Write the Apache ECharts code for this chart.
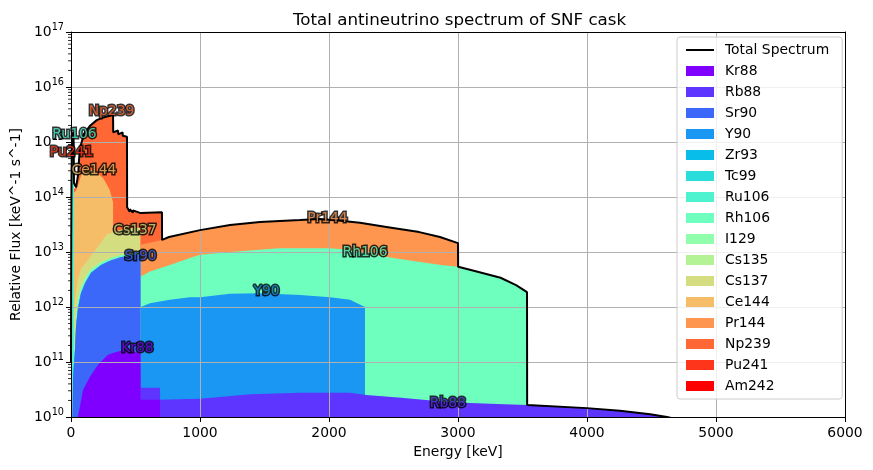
<!DOCTYPE html>
<html>
<head>
<meta charset="utf-8">
<script src="https://cdn.jsdelivr.net/npm/echarts@6/dist/echarts.min.js"></script>
<style>
html,body{margin:0;padding:0;background:#fff}
#chart{width:873px;height:470px}
</style>
</head>
<body>
<div id="chart"></div>
<script>
// isotopes, bottom of the stack first
var isotopes = ['Kr88','Rb88','Sr90','Y90','Zr93','Tc99','Ru106','Rh106','I129','Cs135','Cs137','Ce144','Pr144','Np239','Pu241','Am242'];
var isotopeColors = ['#8000ff','#5e35fe','#3c68f9','#1a96f3','#08bde9','#2adddd','#4df3ce','#6efebd','#91feab','#b3f396','#d4dd80','#f6bd68','#ff964f','#ff6835','#ff351b','#ff0000'];

// cumulative top of each layer, [energy keV, flux]
var kr88Top = [[40,1e9],[54,1e10],[93,3.1e10],[147,5.4e10],[209,8.9e10],[248,1.1e11],[287,1.35e11],[326,1.45e11],[380,1.58e11],[457,1.6e11],[512,1.5e11],[540,1.5e11],[541,2.05e10],[690,2.05e10]];
var rb88Top = [[541,3.4e10],[690,3.4e10],[691,2.05e10],[1000,2.15e10],[1390,2.6e10],[1775,2.75e10],[2160,2.75e10],[2290,2.5e10],[2560,2.25e10],[2940,1.85e10],[3250,1.75e10],[3535,1.65e10],[3545,1.6e10],[4000,1.45e10],[4255,1.3e10],[4490,1.12e10],[4620,1.0e10],[4800,8e9],[5000,5e9]];
var sr90Top = [[0,1e8],[10,1e10],[16,5.4e10],[31,1.66e11],[39,4.4e11],[54,9.5e11],[78,1.8e12],[109,2.75e12],[155,4.2e12],[233,5.8e12],[310,7.1e12],[388,8.1e12],[512,8.9e12],[540,8.9e12]];
var y90Top = [[541,1.0e12],[612,1.17e12],[767,1.35e12],[922,1.51e12],[1000,1.51e12],[1233,1.74e12],[1465,1.78e12],[1775,1.66e12],[2008,1.51e12],[2163,1.35e12],[2279,1.0e12]];
var zr93Top = [[16,5.5e10],[31,1.68e11],[39,4.45e11],[54,9.6e11],[78,1.82e12]];
var tc99Top = [[16,5.6e10],[31,1.7e11],[39,4.5e11],[54,9.7e11],[78,1.84e12],[155,4.25e12],[233,5.85e12],[294,6.9e12]];
var ru106Top = [[0,6e10],[2,1e13],[4,1.5e14],[7,6e14],[10,1.0e15],[14,1.3e15],[18,1.3e15],[21,9e14],[23,1.5e14]];
var rh106Top = [[0,5e10],[16,8e10],[31,2.3e11],[39,6.2e11],[54,1.25e12],[78,2.2e12],[109,3.2e12],[155,4.7e12],[233,6.4e12],[310,7.8e12],[388,8.8e12],[512,9.6e12],[540,9.6e12],[541,3.6e12],[612,4.4e12],[767,5.8e12],[922,7.8e12],[1000,8.9e12],[1233,1.0e13],[1610,1.17e13],[2000,1.17e13],[2163,1.1e13],[2400,8.5e12],[2640,6.9e12],[2870,5.8e12],[3000,5.4e12],[3100,4.7e12],[3330,3.4e12],[3450,2.5e12],[3535,1.86e12]];
var i129Top = [[39,6.6e11],[54,1.33e12],[78,2.3e12],[109,3.35e12],[150,4.8e12]];
var cs135Top = [[39,7e11],[54,1.4e12],[78,2.4e12],[109,3.5e12],[155,5.0e12],[233,6.7e12],[265,7.2e12]];
var cs137Top = [[15,3e11],[25,1.0e12],[39,2.0e12],[54,3.2e12],[78,5.0e12],[124,6.8e12],[202,1.2e13],[279,2.1e13],[380,2.5e13],[450,2.7e13],[512,2.75e13],[538,2.75e13]];
var ce144Top = [[20,1.2e14],[39,1.3e14],[50,1.3e14],[60,1.8e14],[80,2.5e14],[100,2.9e14],[150,3.1e14],[200,2.8e14],[250,2.2e14],[300,1.35e14],[320,9e13],[326,8e13]];
var pr144Top = [[541,1.35e13],[705,1.66e13],[760,1.87e13],[1000,2.5e13],[1233,3.1e13],[1465,3.5e13],[1775,3.8e13],[1930,4.0e13],[2090,3.7e13],[2240,3.4e13],[2470,2.8e13],[2700,2.3e13],[2860,1.87e13],[3000,1.45e13]];
var np239Top = [[20,1.4e14],[39,1.5e14],[50,1.4e14],[56,2.6e14],[64,5.5e14],[72,8e14],[100,1.4e15],[150,2.0e15],[200,2.5e15],[250,2.8e15],[300,3.0e15],[326,3.2e15],[327,1.5e15],[365,1.62e15],[366,1.38e15],[400,1.5e15],[401,1.3e15],[434,1.25e15],[435,6.5e13],[455,5.4e13],[456,6.0e13],[480,5.2e13],[481,5.7e13],[540,5.1e13],[541,5.5e13],[705,5.3e13]];
var pu241Top = [[0,8e10],[2,1.5e13],[4,2e14],[7,8e14],[10,1.2e15],[13,1.45e15],[15,1.2e15]];
var am242Top = [[0,8e10],[2,1.5e13],[4,2e14],[7,8e14],[10,1.2e15],[13,1.45e15],[15,1.2e15]];
var layerTops = [kr88Top,rb88Top,sr90Top,y90Top,zr93Top,tc99Top,ru106Top,rh106Top,i129Top,cs135Top,cs137Top,ce144Top,pr144Top,np239Top,pu241Top,am242Top];

var totalFlux = [[0,1.0e11],[2,1.6e13],[4,2.1e14],[7,8.5e14],[10,1.25e15],[13,1.5e15],[15,1.4e15],[18,1.35e15],[21,9.5e14],[23,1.8e14],[39,1.5e14],[50,1.4e14],[56,2.6e14],[64,5.5e14],[72,8e14],[100,1.4e15],[150,2.0e15],[200,2.5e15],[250,2.8e15],[300,3.0e15],[326,3.2e15],[327,1.5e15],[365,1.62e15],[366,1.38e15],[400,1.5e15],[401,1.3e15],[434,1.25e15],[435,6.5e13],[455,5.4e13],[456,6.0e13],[480,5.2e13],[481,5.7e13],[540,5.1e13],[541,5.5e13],[705,5.3e13],[706,1.66e13],[760,1.87e13],[1000,2.5e13],[1233,3.1e13],[1465,3.5e13],[1775,3.8e13],[1930,4.0e13],[2090,3.7e13],[2240,3.4e13],[2470,2.8e13],[2700,2.3e13],[2860,1.87e13],[3000,1.45e13],[3001,5.4e12],[3100,4.7e12],[3330,3.4e12],[3450,2.5e12],[3535,1.86e12],[3536,1.65e10],[4000,1.45e10],[4255,1.3e10],[4490,1.12e10],[4620,1.0e10],[4800,8e9],[5000,5e9]];

// text labels on the plot
var labelNames = ['Np239','Ru106','Pu241','Ce144','Cs137','Sr90','Pr144','Rh106','Y90','Kr88','Rb88'];
var labelEnergy = [314,27,4,178,496,539,1988,2279,1516,515,2922];
var labelFlux = [3.6e15,1.4e15,6.5e14,3.0e14,2.5e13,8.3e12,4.0e13,1.0e13,1.95e12,1.78e11,1.8e10];

// y axis minor ticks
var minorMantissa = [2,3,4,5,6,7,8,9];
var minorDecades = [10,11,12,13,14,15,16];

var FONT = 'DejaVu Sans';
var chart = echarts.init(document.getElementById('chart'));

var series = [];
for (var i = isotopes.length - 1; i >= 0; i--) {
  series.push({
    name: isotopes[i],
    type: 'line',
    data: layerTops[i],
    symbol: 'none',
    color: isotopeColors[i],
    lineStyle: {width: 0},
    areaStyle: {color: isotopeColors[i], opacity: 1, origin: 'start'},
    z: 2 + (isotopes.length - i),
    silent: true
  });
}
series.push({
  name: 'Total Spectrum',
  type: 'line',
  data: totalFlux,
  symbol: 'none',
  color: '#000',
  lineStyle: {width: 2, color: '#000'},
  z: 40,
  silent: true
});

var minorData = [];
minorDecades.forEach(function (d) {
  minorMantissa.forEach(function (m) { minorData.push([0, m * Math.pow(10, d)]); });
});
series.push({
  type: 'custom',
  name: 'minor',
  data: minorData,
  z: 35,
  silent: true,
  renderItem: function (params, api) {
    var p = api.coord([0, api.value(1)]);
    return {type: 'line', shape: {x1: p[0] - 3, y1: p[1], x2: p[0], y2: p[1]}, style: {stroke: '#000', lineWidth: 0.8}};
  }
});

var labelData = labelNames.map(function (n, k) {
  return {name: n, value: [labelEnergy[k], labelFlux[k]], label: {color: isotopeColors[isotopes.indexOf(n)]}};
});
series.push({
  type: 'scatter',
  name: 'labels',
  data: labelData,
  symbolSize: 1,
  itemStyle: {color: 'rgba(0,0,0,0)'},
  z: 50,
  silent: true,
  label: {
    show: true, position: 'inside', formatter: '{b}',
    fontFamily: FONT, fontSize: 13.9,
    textBorderColor: '#000', textBorderWidth: 3
  }
});

// line-shaped legend handle for the total curve
var lineIcon = 'path://M0,0Z M0,4.1L28,4.1L28,5.9L0,5.9Z M28,10Z';
var legendData = [{name: 'Total Spectrum', icon: lineIcon, itemStyle: {color: '#000', borderWidth: 0}}]
  .concat(isotopes.map(function (n) { return {name: n, icon: 'rect'}; }));

chart.setOption({
  animation: false,
  textStyle: {fontFamily: FONT},
  title: {
    text: 'Total antineutrino spectrum of SNF cask',
    left: 288, top: 7,
    textStyle: {fontFamily: FONT, fontSize: 16.7, fontWeight: 'normal', color: '#000'}
  },
  grid: {left: 71, right: 28, top: 32, bottom: 53},
  legend: {
    data: legendData,
    orient: 'vertical',
    left: 677, top: 37,
    padding: [6, 13, 6, 9],
    itemWidth: 28, itemHeight: 10, itemGap: 7,
    selectedMode: false,
    backgroundColor: 'rgba(255,255,255,0.8)',
    borderColor: '#cccccc', borderWidth: 1, borderRadius: 3,
    textStyle: {fontFamily: FONT, fontSize: 13.9, color: '#000', lineHeight: 14, padding: [0, 0, 0, 6]},
    z: 60
  },
  xAxis: [{
    type: 'value', min: 0, max: 6000, interval: 1000, position: 'bottom',
    name: 'Energy [keV]', nameLocation: 'middle', nameGap: 27,
    nameTextStyle: {fontFamily: FONT, fontSize: 13.9, color: '#000'},
    axisLine: {show: true, onZero: false, lineStyle: {color: '#000', width: 1}},
    axisTick: {show: true, length: 5, lineStyle: {color: '#000', width: 1}},
    axisLabel: {fontFamily: FONT, fontSize: 13.9, color: '#000', margin: 9,
      formatter: function (v) { return String(v); }},
    splitLine: {show: true, lineStyle: {color: '#b0b0b0', width: 1}},
    z: 30
  }, {
    type: 'value', min: 0, max: 6000, position: 'top',
    axisLine: {show: true, onZero: false, lineStyle: {color: '#000', width: 1}},
    axisTick: {show: false}, axisLabel: {show: false}, splitLine: {show: false},
    z: 30
  }],
  yAxis: [{
    type: 'log', logBase: 10, min: 1e10, max: 1e17, splitNumber: 7,
    name: 'Relative Flux [keV^-1 s^-1]', nameLocation: 'middle', nameGap: 48,
    nameTextStyle: {fontFamily: FONT, fontSize: 13.9, color: '#000'},
    axisLine: {show: true, onZero: false, lineStyle: {color: '#000', width: 1}},
    axisTick: {show: true, length: 5, lineStyle: {color: '#000', width: 1}},
    axisLabel: {
      margin: 7, color: '#000',
      formatter: function (v) { return '{b|10}{s|' + Math.round(Math.log10(v)) + '}'; },
      rich: {
        b: {fontFamily: FONT, fontSize: 13.9, color: '#000'},
        s: {fontFamily: FONT, fontSize: 9.7, color: '#000', padding: [0, 0, 9, 0]}
      }
    },
    splitLine: {show: true, lineStyle: {color: '#b0b0b0', width: 1}},
    z: 30
  }, {
    type: 'value', min: 0, max: 1, position: 'right',
    axisLine: {show: true, onZero: false, lineStyle: {color: '#000', width: 1}},
    axisTick: {show: false}, axisLabel: {show: false}, splitLine: {show: false},
    z: 30
  }],
  series: series
});
</script>
</body>
</html>
